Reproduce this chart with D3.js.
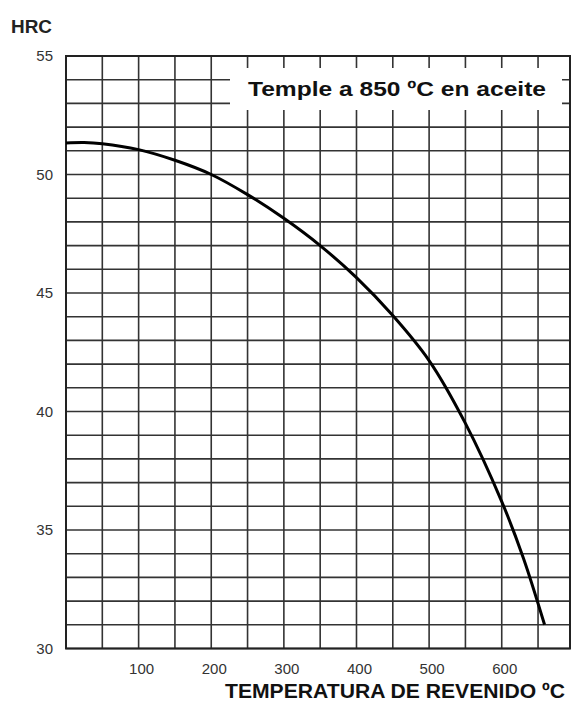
<!DOCTYPE html>
<html>
<head>
<meta charset="utf-8">
<script src="https://cdn.jsdelivr.net/npm/d3@7"></script>
<style>
  html, body { margin: 0; padding: 0; background: #fff; }
  svg { display: block; font-family: "Liberation Sans", Arial, sans-serif; }
</style>
</head>
<body>
<svg id="chart" width="573" height="701"></svg>
<script>
// ---- data ----
const temps = [0, 25, 50, 100, 150, 200, 250, 300, 350, 400, 450, 500, 550, 600, 630, 659];
const hrc   = [51.33, 51.35, 51.3, 51.05, 50.6, 50.0, 49.15, 48.15, 47.0, 45.65, 44.05, 42.15, 39.5, 36.2, 33.8, 31.0];
const xTickLabels = [100, 200, 300, 400, 500, 600];
const yTickLabels = [30, 35, 40, 45, 50, 55];
const xGrid = [0, 50, 100, 150, 200, 250, 300, 350, 400, 450, 500, 550, 600, 650];
const yGrid = d3.range(30, 56, 1);
const titleText = "Temple a 850 ºC en aceite";
const yAxisTitle = "HRC";
const xAxisTitle = "TEMPERATURA DE REVENIDO ºC";

// ---- layout ----
const svg = d3.select("#chart");
const x = d3.scaleLinear().domain([0, 694]).range([66, 570]);
const y = d3.scaleLinear().domain([30, 55]).range([648.5, 56]);

// grid
const g = svg.append("g");
g.selectAll("line.h").data(yGrid).enter().append("line")
  .attr("x1", x(0)).attr("x2", x(694))
  .attr("y1", d => y(d)).attr("y2", d => y(d))
  .attr("stroke", "#333").attr("stroke-width", 1.6);
g.selectAll("line.v").data(xGrid).enter().append("line")
  .attr("y1", y(30)).attr("y2", y(55))
  .attr("x1", d => x(d)).attr("x2", d => x(d))
  .attr("stroke", "#333").attr("stroke-width", 1.6);
// border
g.append("rect")
  .attr("x", x(0)).attr("y", y(55))
  .attr("width", x(694) - x(0)).attr("height", y(30) - y(55))
  .attr("fill", "none").attr("stroke", "#222").attr("stroke-width", 2);

// title box
svg.append("rect")
  .attr("x", 230).attr("y", 68).attr("width", 332).attr("height", 42)
  .attr("fill", "#fff");
svg.append("text")
  .attr("x", 248).attr("y", 96)
  .attr("font-size", 21).attr("font-weight", "bold").attr("fill", "#111")
  .attr("textLength", 298).attr("lengthAdjust", "spacingAndGlyphs")
  .text(titleText);

// curve
const pts = temps.map((t, i) => [t, hrc[i]]);
svg.append("path")
  .datum(pts)
  .attr("fill", "none").attr("stroke", "#000").attr("stroke-width", 3)
  .attr("d", d3.line().x(d => x(d[0])).y(d => y(d[1])).curve(d3.curveCatmullRom.alpha(0.5)));

// tick labels
svg.selectAll("text.yt").data(yTickLabels).enter().append("text")
  .attr("x", 53).attr("y", d => y(d) + 5)
  .attr("text-anchor", "end").attr("font-size", 15).attr("fill", "#333")
  .text(d => d);
svg.selectAll("text.xt").data(xTickLabels).enter().append("text")
  .attr("x", d => x(d) + 3).attr("y", 674)
  .attr("text-anchor", "middle").attr("font-size", 15).attr("fill", "#333")
  .text(d => d);

// axis titles
svg.append("text")
  .attr("x", 11).attr("y", 33)
  .attr("font-size", 18).attr("font-weight", "bold").attr("fill", "#222")
  .attr("textLength", 41).attr("lengthAdjust", "spacingAndGlyphs")
  .text(yAxisTitle);
svg.append("text")
  .attr("x", 225).attr("y", 698)
  .attr("font-size", 21).attr("font-weight", "bold").attr("fill", "#111")
  .attr("textLength", 340).attr("lengthAdjust", "spacingAndGlyphs")
  .text(xAxisTitle);
</script>
</body>
</html>
